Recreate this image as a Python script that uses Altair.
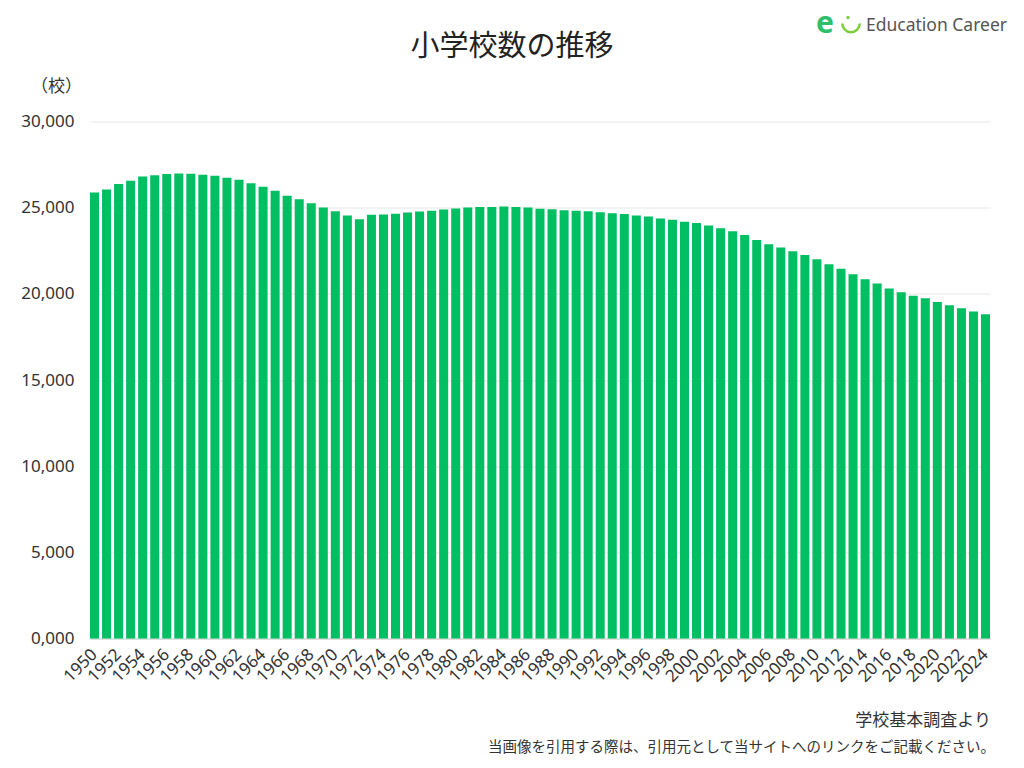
import math
import altair as alt
import pandas as pd

years = list(range(1950, 2025))
schools = [
    25878, 26056, 26377, 26555, 26804, 26880, 26957, 26988, 26964, 26916,
    26858, 26741, 26615, 26423, 26210, 25977, 25687, 25487, 25262, 25013,
    24790, 24540, 24325, 24592, 24606, 24650, 24717, 24777, 24828, 24899,
    24945, 25005, 25043, 25045, 25064, 25040, 25010, 24933, 24901, 24851,
    24827, 24798, 24730, 24676, 24635, 24548, 24482, 24376, 24295, 24188,
    24106, 23964, 23808, 23633, 23420, 23123, 22878, 22693, 22476, 22258,
    22000, 21721, 21460, 21131, 20852, 20601, 20313, 20095, 19892, 19738,
    19525, 19336, 19161, 18980, 18822,
]

title_text = "小学校数の推移"
unit_text = "（校）"
source_text = "学校基本調査より"
note_text = "当画像を引用する際は、引用元として当サイトへのリンクをご記載ください。"
logo_text = "Education Career"

FONT = "Noto Sans CJK JP"
NUMFONT = "Noto Sans"
GREEN = "#00BE62"

df = pd.DataFrame({"year": years, "schools": schools})

bars = alt.Chart(df).mark_bar(color=GREEN).encode(
    x=alt.X(
        "year:O",
        title=None,
        scale=alt.Scale(paddingInner=0.25, paddingOuter=0),
        axis=alt.Axis(
            labelExpr="datum.value % 2 == 0 ? datum.label : ''",
            labelAngle=-45,
            labelAlign="right",
            labelBaseline="middle",
            labelFontSize=17,
            labelColor="#333333",
            labelFont=NUMFONT,
            labelPadding=13,
            labelOverlap=False,
            labelBound=False,
            labelFlush=False,
            ticks=False,
            domainColor="#cccccc",
            grid=False,
        ),
    ),
    y=alt.Y(
        "schools:Q",
        title=None,
        scale=alt.Scale(domain=[0, 30000], nice=False),
        axis=alt.Axis(
            values=[0, 5000, 10000, 15000, 20000, 25000, 30000],
            labelExpr="datum.value == 0 ? '0,000' : format(datum.value, ',')",
            labelFontSize=17,
            labelColor="#333333",
            labelFont=NUMFONT,
            labelPadding=16,
            ticks=False,
            domain=False,
            gridColor="#e6e6e6",
            gridWidth=1,
        ),
    ),
)

one = pd.DataFrame({"k": [0]})


def label(text, x, y, size, align="center", color="#333333", weight="normal", font=FONT):
    return alt.Chart(pd.DataFrame({"t": [text]})).mark_text(
        font=font, fontSize=size, align=align, baseline="middle", color=color,
        fontWeight=weight,
    ).encode(text="t:N", x=alt.value(x), y=alt.value(y))


title = label(title_text, 422, -75, 29, color="#222222")
unit = label(unit_text, -8, -35, 17, align="right")
source = label(source_text, 901, 599, 17, align="right")
note = label(note_text, 905, 626, 14.5, align="right")
logo = label(logo_text, 776, -96, 17.5, align="left", color="#555555", font=NUMFONT)
logo_e = label("e", 726, -98, 30, align="left", color="#2dbf6a", weight="bold", font=NUMFONT)
logo_smile = alt.Chart(one).mark_arc(
    radius=10, radius2=7.5, theta=math.pi / 2, theta2=3 * math.pi / 2, color="#7ccf3a"
).encode(x=alt.value(761), y=alt.value(-98))
logo_dot = alt.Chart(one).mark_circle(size=12, color="#7ccf3a", opacity=1).encode(
    x=alt.value(758), y=alt.value(-104)
)

chart = alt.layer(bars, title, unit, source, note, logo, logo_e, logo_smile, logo_dot).properties(
    width=900,
    height=517,
    autosize=alt.AutoSizeParams(type="none"),
    padding={"left": 82, "top": 113.5, "right": 26, "bottom": 122},
).configure(background="white").configure_view(stroke=None)

chart.save("out.html", embed_options={"renderer": "svg", "actions": False})
